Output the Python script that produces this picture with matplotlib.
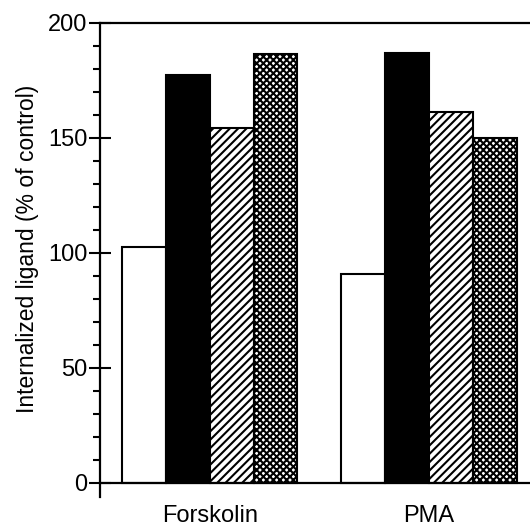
import numpy as np
import matplotlib
matplotlib.use('Agg')
import matplotlib.pyplot as plt
from matplotlib.ticker import MultipleLocator

plt.rcParams['font.family'] = ['Liberation Sans', 'DejaVu Sans']
plt.rcParams['hatch.linewidth'] = 1.5

groups = ['Forskolin', 'PMA']
open_bar = [102.6, 90.9]
solid_bar = [177.4, 187.0]
striped_bar = [154.3, 161.3]
checked_bar = [186.5, 150.0]

fig = plt.figure(figsize=(5.30, 5.26), dpi=100)
ax = fig.add_axes([0.1887, 0.0551, 0.8113, 0.9012])

x = np.arange(len(groups))
w = 0.2
styles = [
    (open_bar, 'white', ''),
    (solid_bar, 'black', ''),
    (striped_bar, 'white', '////'),
    (checked_bar, 'white', 'xxxxx'),
]
for k, (vals, fc, hatch) in enumerate(styles):
    ax.bar(x + (k - 1.5) * w, vals, w, color=fc, edgecolor='black',
           linewidth=1.5, hatch=hatch)

ax.set_xlim(-0.5, 1.46)
ax.set_ylim(-6.1, 200)

ax.spines['right'].set_visible(False)
ax.spines['bottom'].set_position(('data', 0))
for s in ['left', 'top', 'bottom']:
    ax.spines[s].set_linewidth(1.6)

ax.set_xticks(x)
ax.set_xticklabels(groups, fontsize=17)
ax.tick_params(axis='x', length=0, pad=16)

ax.set_yticks([0, 50, 100, 150, 200])
ax.yaxis.set_minor_locator(MultipleLocator(10))
ax.tick_params(axis='y', which='major', direction='inout', length=16,
               width=1.5, labelsize=17, pad=1)
ax.tick_params(axis='y', which='minor', direction='out', length=5,
               width=1.5)
ax.set_ylabel('Internalized ligand (% of control)', fontsize=16.5)
ax.yaxis.set_label_coords(-0.142, 0.523)

fig.savefig('out.png', dpi=100)
